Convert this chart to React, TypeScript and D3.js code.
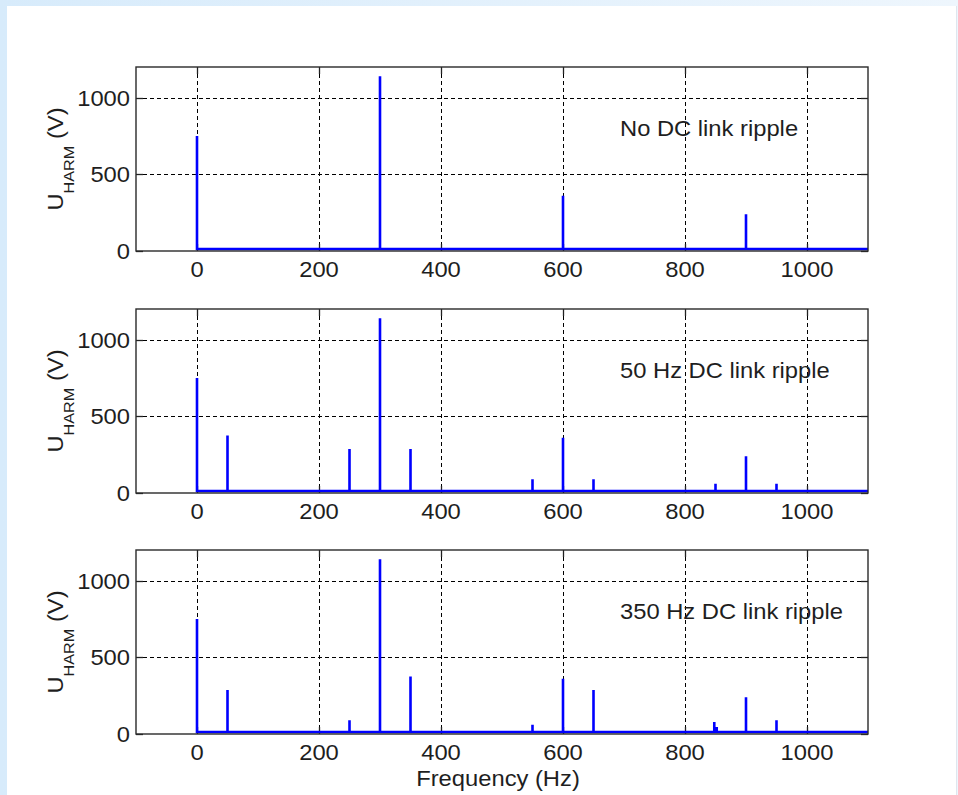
import React from "react";
import * as d3 from "d3";

// ---- data ----
const FREQ_TICKS = [0, 200, 400, 600, 800, 1000];
const AMP_TICKS = [0, 500, 1000];
const FREQ_DOMAIN = [-100, 1100];
const AMP_DOMAIN = [0, 1200];
const BASELINE_V = 13;

const noRippleFreq = [0, 300, 600, 900];
const noRippleAmp = [750, 1140, 360, 240];

const ripple50Freq = [0, 50, 250, 300, 350, 550, 600, 650, 850, 900, 950];
const ripple50Amp = [750, 375, 287, 1140, 287, 90, 360, 90, 60, 240, 60];

const ripple350Freq = [0, 50, 250, 300, 350, 550, 600, 650, 848, 852, 900, 950];
const ripple350Amp = [750, 287, 90, 1140, 375, 60, 360, 287, 78, 45, 240, 90];

const panelTitles = ["No DC link ripple", "50 Hz DC link ripple", "350 Hz DC link ripple"];
const panelFreqs = [noRippleFreq, ripple50Freq, ripple350Freq];
const panelAmps = [noRippleAmp, ripple50Amp, ripple350Amp];

const X_LABEL = "Frequency (Hz)";
const TITLE_POS = { f: 700, v: 750 };

// ---- layout ----
const W = 958;
const H = 795;
const LEFT = 136;
const RIGHT = 868;
const TOPS = [67, 309, 550];
const PH = 184;
const FONT = "'Liberation Sans', Arial, Helvetica, sans-serif";
const TXT = "#1e1e1e";
const SX = 1.08;
const FS = 22;

function SText({
  x,
  y,
  anchor = "start",
  rotate = 0,
  size = FS,
  children,
}: {
  x: number;
  y: number;
  anchor?: string;
  rotate?: number;
  size?: number;
  children: React.ReactNode;
}) {
  return (
    <text
      transform={`translate(${x},${y}) rotate(${rotate}) scale(${SX},1)`}
      textAnchor={anchor as any}
      fontFamily={FONT}
      fontSize={size}
      fill={TXT}
    >
      {children}
    </text>
  );
}

function Panel({ idx }: { idx: number }) {
  const top = TOPS[idx];
  const bottom = top + PH;
  const x = d3.scaleLinear().domain(FREQ_DOMAIN).range([LEFT, RIGHT]);
  const y = d3.scaleLinear().domain(AMP_DOMAIN).range([bottom, top]);
  const freqs = panelFreqs[idx];
  const amps = panelAmps[idx];

  const pts: [number, number][] = [];
  freqs.forEach((f, i) => {
    if (i === 0) {
      pts.push([f, amps[i]]);
      pts.push([f, BASELINE_V]);
    } else {
      pts.push([f, BASELINE_V]);
      pts.push([f, amps[i]]);
      pts.push([f, BASELINE_V]);
    }
  });
  pts.push([FREQ_DOMAIN[1], BASELINE_V]);
  const line = d3
    .line<[number, number]>()
    .x((d) => x(d[0]))
    .y((d) => y(d[1]));

  const clipId = `clip${idx}`;
  const tick = 7;
  const cy = (top + bottom) / 2;
  const px = (v: number) => Math.round(v) + 0.5;

  return (
    <g>
      <defs>
        <clipPath id={clipId}>
          <rect x={LEFT} y={top} width={RIGHT - LEFT} height={PH} />
        </clipPath>
      </defs>
      {/* grid */}
      {FREQ_TICKS.map((t) => (
        <line
          key={"gx" + t}
          x1={px(x(t))}
          x2={px(x(t))}
          y1={top}
          y2={bottom}
          stroke="#000"
          strokeWidth={1}
          strokeDasharray="4,3"
        />
      ))}
      {AMP_TICKS.filter((t) => t > 0).map((t) => (
        <line
          key={"gy" + t}
          x1={LEFT}
          x2={RIGHT}
          y1={px(y(t))}
          y2={px(y(t))}
          stroke="#000"
          strokeWidth={1}
          strokeDasharray="4,3"
        />
      ))}
      {/* ticks */}
      {FREQ_TICKS.map((t) => (
        <g key={"tx" + t}>
          <line x1={px(x(t))} x2={px(x(t))} y1={bottom} y2={bottom - tick} stroke="#222" strokeWidth={1.3} />
          <line x1={px(x(t))} x2={px(x(t))} y1={top} y2={top + tick} stroke="#222" strokeWidth={1.3} />
        </g>
      ))}
      {AMP_TICKS.map((t) => (
        <g key={"ty" + t}>
          <line x1={LEFT} x2={LEFT + tick} y1={px(y(t))} y2={px(y(t))} stroke="#222" strokeWidth={1.3} />
          <line x1={RIGHT} x2={RIGHT - tick} y1={px(y(t))} y2={px(y(t))} stroke="#222" strokeWidth={1.3} />
        </g>
      ))}
      {/* data */}
      <path
        d={line(pts) || ""}
        fill="none"
        stroke="#0000ff"
        strokeWidth={2.6}
        clipPath={`url(#${clipId})`}
      />
      {/* box */}
      <rect
        x={LEFT}
        y={top}
        width={RIGHT - LEFT}
        height={PH}
        fill="none"
        stroke="#2a2a2a"
        strokeWidth={1.4}
      />
      {/* tick labels */}
      {FREQ_TICKS.map((t) => (
        <SText key={"lx" + t} x={x(t)} y={bottom + 26} anchor="middle">
          {t}
        </SText>
      ))}
      {AMP_TICKS.map((t) => (
        <SText key={"ly" + t} x={LEFT - 6} y={y(t) + 8} anchor="end">
          {t}
        </SText>
      ))}
      {/* y label */}
      <SText x={63} y={cy} anchor="middle" rotate={-90}>
        U
        <tspan fontSize={15} dy={11}>
          HARM
        </tspan>
        <tspan dy={-11}> (V)</tspan>
      </SText>
      {/* annotation */}
      <SText x={x(TITLE_POS.f) - 4} y={y(TITLE_POS.v)}>
        {panelTitles[idx]}
      </SText>
    </g>
  );
}

export default function App() {
  const x = d3.scaleLinear().domain(FREQ_DOMAIN).range([LEFT, RIGHT]);
  return (
    <svg
      width={W}
      height={H}
      style={{ position: "absolute", left: 0, top: 0, display: "block" }}
    >
      <defs>
        <linearGradient id="bg" x1="0" x2="1" y1="0" y2="0">
          <stop offset="0" stopColor="#d7ebfb" />
          <stop offset="1" stopColor="#eef6fd" />
        </linearGradient>
      </defs>
      <rect x={0} y={0} width={W} height={H} fill="url(#bg)" />
      <rect x={7} y={6} width={949} height={H - 6} fill="#ffffff" />
      <line x1={956.5} x2={956.5} y1={6} y2={H} stroke="#dfe6ee" strokeWidth={1} />
      {[0, 1, 2].map((i) => (
        <Panel key={i} idx={i} />
      ))}
      <SText x={(x(FREQ_DOMAIN[0]) + x(FREQ_DOMAIN[1])) / 2 - 4} y={786} anchor="middle">
        {X_LABEL}
      </SText>
    </svg>
  );
}
